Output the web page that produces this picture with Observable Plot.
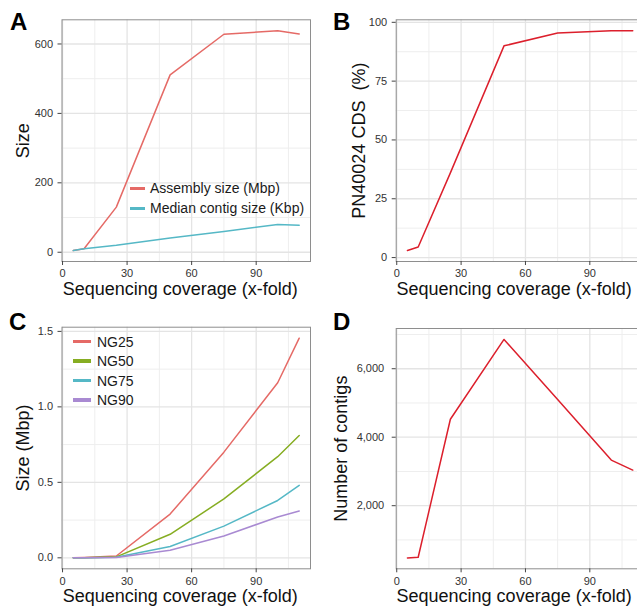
<!DOCTYPE html>
<html><head><meta charset="utf-8">
<script src="https://cdn.jsdelivr.net/npm/d3@7"></script>
<script src="https://cdn.jsdelivr.net/npm/@observablehq/plot@0.6"></script>
<style>
html,body{margin:0;padding:0;background:#fff;overflow:hidden;}
#fig{position:relative;width:637px;height:606px;overflow:hidden;background:#fff;font-family:"Liberation Sans",Arial,Helvetica,sans-serif;}
.letter{position:absolute;font-weight:bold;font-size:24px;line-height:24px;color:#000;}
.legend-row{position:absolute;display:flex;align-items:center;height:20px;font-size:14px;color:#1a1a1a;white-space:nowrap;}
.key{display:inline-block;height:3.5px;}
</style></head><body><div id="fig"></div>
<script>
// ---- data ----
const coverage = [5, 10, 25, 50, 75, 100, 110];
const assemblySizeMbp = [5, 10, 130, 511, 628, 638, 629];
const medianContigKbp = [5, 10, 20, 41, 60, 80, 78];
const cdsPct = [3, 4.5, 36, 90, 95.5, 96.4, 96.4];
const ng25 = [0, 0.002, 0.012, 0.29, 0.70, 1.16, 1.455];
const ng50 = [0, 0.001, 0.006, 0.156, 0.39, 0.67, 0.81];
const ng75 = [0, 0.001, 0.004, 0.075, 0.21, 0.38, 0.48];
const ng90 = [0, 0.001, 0.002, 0.05, 0.145, 0.27, 0.31];
const contigs = [476, 494, 4525, 6856, 5100, 3331, 3040];

const xMajor = [0, 30, 60, 90];
const xMinor = [15, 45, 75, 105];
const xTitle = "Sequencing coverage (x-fold)";

const seriesA = ["Assembly size (Mbp)", "Median contig size (Kbp)"];
const seriesC = ["NG25", "NG50", "NG75", "NG90"];

// ---- styling ----
const FONT = '"Liberation Sans", Arial, Helvetica, sans-serif';
const colA = ["#E56A66", "#55B8C6"];
const colC = ["#E56A66", "#86AD22", "#55B8C6", "#A98AD2"];
const redLine = "#DC1F2C";

const fig = document.getElementById("fig");

function expand(vals) {
  const lo = d3.min(vals), hi = d3.max(vals), p = (hi - lo) * 0.05;
  return [lo - p, hi + p];
}
const xDomain = expand(coverage);

function panel(o) {
  const width = o.svgW, height = o.svgH;
  const lineMarks = o.series.map(s => Plot.line(coverage.map((c, i) => ({x: c, y: s.values[i]})),
    {x: "x", y: "y", stroke: s.color, strokeWidth: 1.5}));
  const marks = [
    Plot.gridX(xMinor, {stroke: "#eeeeee", strokeWidth: 1, strokeOpacity: 1}),
    Plot.gridY(o.yMinor, {stroke: "#eeeeee", strokeWidth: 1, strokeOpacity: 1}),
    Plot.gridX(xMajor, {stroke: "#e4e4e4", strokeWidth: 1.3, strokeOpacity: 1}),
    Plot.gridY(o.yMajor, {stroke: "#e4e4e4", strokeWidth: 1.3, strokeOpacity: 1}),
    ...lineMarks,
    Plot.frame({stroke: "#8e8e8e", strokeWidth: 1}),
    Plot.axisX(xMajor, {tickSize: 4, tickPadding: 4, fontSize: 11, stroke: "#444", fill: "#333", label: null}),
    Plot.axisY(o.yMajor, {tickSize: 4, tickPadding: o.yPad ?? 5, fontSize: 11, stroke: "#444", fill: "#333", label: null, tickFormat: o.yFormat}),
    Plot.text([xTitle], {text: d => d, frameAnchor: "bottom", textAnchor: "middle", dy: 33.3, dx: -6, lineAnchor: "bottom", fontSize: 18, fill: "#111"}),
    Plot.text([o.yTitle], {text: d => d, frameAnchor: "left", textAnchor: "middle", rotate: -90, dx: o.yTitleDx, lineAnchor: "bottom", fontSize: 18, fill: "#111"})
  ];
  const svg = Plot.plot({
    width, height,
    marginLeft: o.frame.l - o.left,
    marginRight: o.left + width - o.frame.r,
    marginTop: o.frame.t - o.top,
    marginBottom: o.top + height - o.frame.b,
    x: {domain: xDomain, nice: false},
    y: {domain: o.yDomain, nice: false},
    style: {fontFamily: FONT, background: "transparent", overflow: "visible"},
    marks
  });
  svg.style.position = "absolute";
  svg.style.left = o.left + "px";
  svg.style.top = o.top + "px";
  svg.style.maxWidth = "none";
  fig.appendChild(svg);
}

// Panel A
panel({
  left: 0, top: 0, svgW: 320, svgH: 300,
  frame: {l: 61.5, r: 310, t: 19.3, b: 261},
  yDomain: expand([...assemblySizeMbp, ...medianContigKbp]),
  yMajor: [0, 200, 400, 600], yMinor: [100, 300, 500],
  yTitle: "Size", yTitleDx: -33,
  series: [{values: assemblySizeMbp, color: colA[0]}, {values: medianContigKbp, color: colA[1]}]
});
// Panel B
panel({
  left: 320, top: 0, svgW: 330, svgH: 300,
  frame: {l: 395.7, r: 643.5, t: 19.3, b: 261},
  yDomain: expand(cdsPct),
  yMajor: [0, 25, 50, 75, 100], yMinor: [12.5, 37.5, 62.5, 87.5],
  yTitle: "PN40024 CDS  (%)", yTitleDx: -31,
  series: [{values: cdsPct, color: redLine}]
});
// Panel C
panel({
  left: 0, top: 300, svgW: 320, svgH: 306,
  frame: {l: 61.5, r: 310, t: 326.7, b: 568.3},
  yDomain: expand([...ng25, ...ng50, ...ng75, ...ng90]),
  yMajor: [0, 0.5, 1, 1.5], yMinor: [0.25, 0.75, 1.25],
  yFormat: d3.format(".1f"),
  yTitle: "Size (Mbp)", yTitleDx: -33,
  series: [ng25, ng50, ng75, ng90].map((v, i) => ({values: v, color: colC[i]}))
});
// Panel D
panel({
  left: 320, top: 300, svgW: 330, svgH: 306,
  frame: {l: 395.7, r: 643.5, t: 328, b: 568.3},
  yDomain: expand(contigs),
  yMajor: [2000, 4000, 6000], yMinor: [1000, 3000, 5000, 7000],
  yFormat: d3.format(","), yPad: 8,
  yTitle: "Number of contigs", yTitleDx: -49,
  series: [{values: contigs, color: redLine}]
});

// panel letters
[["A", 10, 10], ["B", 333, 10], ["C", 9, 310], ["D", 333, 310]].forEach(([t, x, y]) => {
  const d = document.createElement("div");
  d.className = "letter"; d.textContent = t;
  d.style.left = x + "px"; d.style.top = y + "px";
  fig.appendChild(d);
});

// legends
function legend(names, colors, keyX, keyW, textX, rowYs) {
  names.forEach((n, i) => {
    const row = document.createElement("div");
    row.className = "legend-row";
    row.style.left = keyX + "px";
    row.style.top = (rowYs[i] - 10) + "px";
    const k = document.createElement("span");
    k.className = "key";
    k.style.width = keyW + "px";
    k.style.background = colors[i];
    k.style.marginRight = (textX - keyX - keyW) + "px";
    const s = document.createElement("span");
    s.textContent = n;
    row.appendChild(k); row.appendChild(s);
    fig.appendChild(row);
  });
}
legend(seriesA, colA, 130, 15, 150, [188.3, 208.3]);
legend(seriesC, colC, 73, 18, 97, [341.7, 361.2, 380.7, 400.2]);
</script></body></html>
